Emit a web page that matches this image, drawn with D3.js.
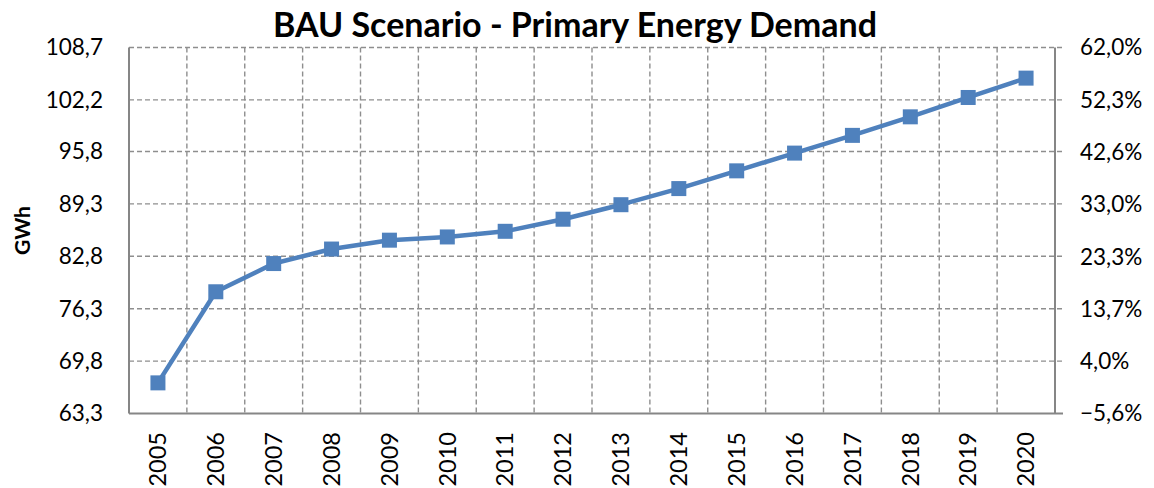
<!DOCTYPE html>
<html>
<head>
<meta charset="utf-8">
<script src="https://cdn.jsdelivr.net/npm/d3@7"></script>
<style>
  body { margin: 0; background: #fff; }
  text { font-family: Lato, "Open Sans", sans-serif; }
</style>
</head>
<body>
<div id="chart_div"></div>
<script>
// data
var years = ["2005", "2006", "2007", "2008", "2009", "2010", "2011", "2012",
             "2013", "2014", "2015", "2016", "2017", "2018", "2019", "2020"];
var demand = [67.1, 78.4, 81.9, 83.7, 84.8, 85.2, 85.9, 87.4,
              89.2, 91.2, 93.4, 95.6, 97.8, 100.1, 102.5, 104.9];
var left_ticks = [63.3, 69.8, 76.3, 82.8, 89.3, 95.8, 102.2, 108.7];
var right_ticks = [-5.6, 4.0, 13.7, 23.3, 33.0, 42.6, 52.3, 62.0];

var chart_width = 1154;
var chart_height = 488;
var chart = d3.select("#chart_div").append("svg")
    .attr("width", chart_width)
    .attr("height", chart_height);

var plot_left = 129, plot_right = 1055, plot_top = 47.5, plot_bottom = 413.5;

var x = d3.scaleBand().domain(years).range([plot_left, plot_right]);
var y = d3.scaleLinear().domain([63.3, 108.7]).range([plot_bottom, plot_top]);
var y2 = d3.scaleLinear().domain([-5.6, 62.0]).range([plot_bottom, plot_top]);

var grid_color = "#8e8e8e";
var axis_color = "#868686";
var fmt = function(v) { return d3.format(".1f")(v).replace(".", ","); };

// horizontal grid, sticks out on the right as tick marks
chart.append("g").selectAll("line")
    .data(left_ticks.slice(1))
    .enter().append("line")
    .attr("x1", plot_left).attr("x2", plot_right + 8)
    .attr("y1", function(d) { return y(d); })
    .attr("y2", function(d) { return y(d); })
    .attr("stroke", grid_color)
    .attr("stroke-width", 1.4)
    .attr("stroke-dasharray", "5,3");

// vertical grid on category boundaries
chart.append("g").selectAll("line")
    .data(years.slice(1))
    .enter().append("line")
    .attr("x1", function(d) { return x(d); })
    .attr("x2", function(d) { return x(d); })
    .attr("y1", plot_top).attr("y2", plot_bottom)
    .attr("stroke", grid_color)
    .attr("stroke-width", 1.4)
    .attr("stroke-dasharray", "5,3");

// axis lines
chart.append("line").attr("x1", plot_left).attr("x2", plot_left)
    .attr("y1", plot_top).attr("y2", plot_bottom)
    .attr("stroke", axis_color).attr("stroke-width", 2);
chart.append("line").attr("x1", plot_right).attr("x2", plot_right)
    .attr("y1", plot_top).attr("y2", plot_bottom)
    .attr("stroke", axis_color).attr("stroke-width", 2);
chart.append("line").attr("x1", plot_left).attr("x2", plot_right + 8)
    .attr("y1", plot_bottom).attr("y2", plot_bottom)
    .attr("stroke", axis_color).attr("stroke-width", 2);

// tick labels
chart.append("g").selectAll("text")
    .data(left_ticks)
    .enter().append("text")
    .attr("x", plot_left - 26)
    .attr("y", function(d) { return y(d); })
    .attr("dy", "0.35em")
    .attr("text-anchor", "end")
    .attr("font-size", 22.5)
    .text(fmt);

chart.append("g").selectAll("text")
    .data(right_ticks)
    .enter().append("text")
    .attr("x", plot_right + 25)
    .attr("y", function(d) { return y2(d); })
    .attr("dy", "0.35em")
    .attr("text-anchor", "start")
    .attr("font-size", 22.5)
    .text(function(d) { return fmt(d) + "%"; });

chart.append("g").selectAll("text")
    .data(years)
    .enter().append("text")
    .attr("transform", function(d) {
        return "translate(" + (x(d) + x.bandwidth() / 2) + "," + (plot_bottom + 18.5) + ") rotate(-90)";
    })
    .attr("dy", "0.35em")
    .attr("text-anchor", "end")
    .attr("font-size", 23.5)
    .text(function(d) { return d; });

// the series
var line = d3.line()
    .x(function(d, i) { return x(years[i]) + x.bandwidth() / 2; })
    .y(function(d) { return y(d); });

chart.append("path")
    .datum(demand)
    .attr("d", line)
    .attr("fill", "none")
    .attr("stroke", "#4f81bd")
    .attr("stroke-width", 4.5)
    .attr("stroke-linejoin", "round");

chart.append("g").selectAll("rect")
    .data(demand)
    .enter().append("rect")
    .attr("x", function(d, i) { return x(years[i]) + x.bandwidth() / 2 - 7.5; })
    .attr("y", function(d) { return y(d) - 7.5; })
    .attr("width", 15)
    .attr("height", 15)
    .attr("fill", "#4f81bd");

// titles
chart.append("text")
    .attr("x", 575).attr("y", 37)
    .attr("text-anchor", "middle")
    .attr("font-size", 34)
    .attr("font-weight", "bold")
    .text("BAU Scenario - Primary Energy Demand");

chart.append("text")
    .attr("transform", "translate(30," + ((plot_top + plot_bottom) / 2) + ") rotate(-90)")
    .attr("text-anchor", "middle")
    .attr("font-size", 21)
    .attr("font-weight", "bold")
    .text("GWh");
</script>
</body>
</html>
